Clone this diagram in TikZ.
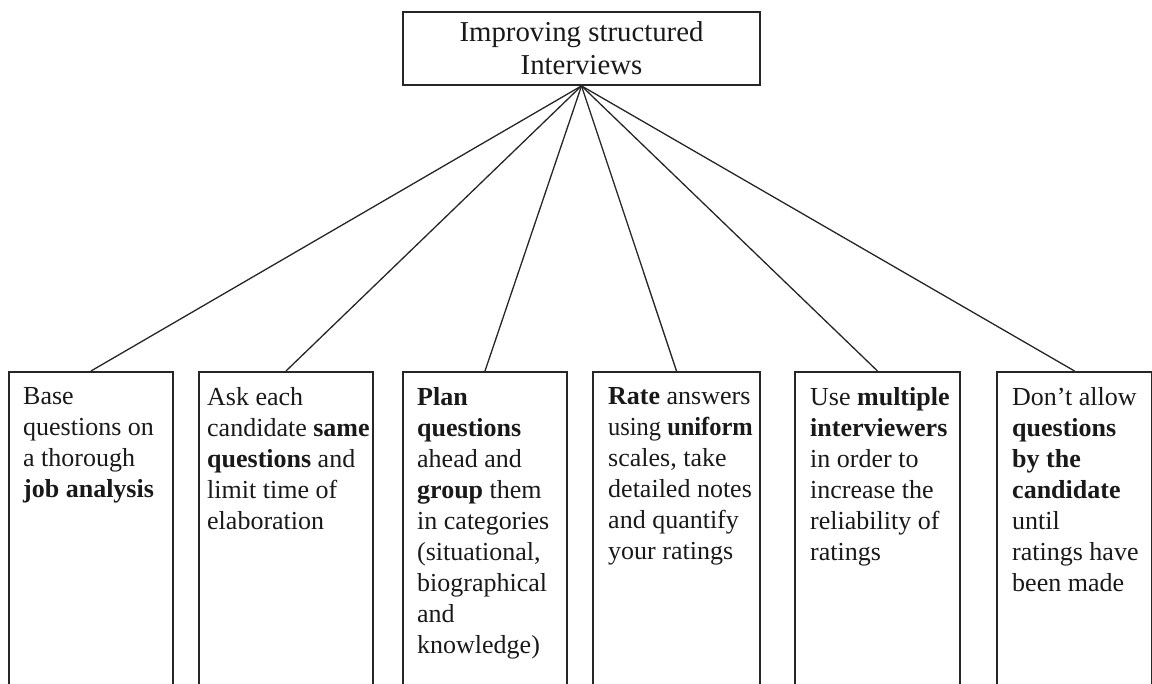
\documentclass[tikz,border=0pt]{standalone}
\usepackage{fontspec}
\setmainfont{Liberation Serif}
\begin{document}
\begin{tikzpicture}[x=1pt,y=-1pt,
  box/.style={draw=black!85, line width=1.8pt, minimum height=400pt, anchor=north, inner sep=0pt},
  txt/.style={anchor=north west, inner sep=0pt, align=left, font=\fontsize{26}{31}\selectfont, text=black!90},
  conn/.style={draw=black!85, line width=1.3pt},
  hub/.style={draw=black!85, line width=1.8pt, minimum width=357pt, minimum height=73pt, inner sep=0pt, align=center, font=\fontsize{28.8}{33}\selectfont, text=black!90}]
\useasboundingbox (0,0) rectangle (1152,684);
\clip (0,0) rectangle (1152,684);
\node[hub] (top) at (581.5,48.5) {Improving structured\\Interviews};
\node[box, minimum width=164pt] (b1) at (91,371) {};
\node[box, minimum width=174pt] (b2) at (286,371) {};
\node[box, minimum width=164pt] (b3) at (485,371) {};
\node[box, minimum width=167pt] (b4) at (676.5,371) {};
\node[box, minimum width=165pt] (b5) at (877.5,371) {};
\node[box, minimum width=155pt] (b6) at (1074.5,371) {};
\node[txt] (t1) at (23,387) {Base\\questions on\\a thorough\\\textbf{job analysis}};
\node[txt] (t2) at (207,387) {Ask each\\candidate \textbf{same}\\\textbf{questions} and\\limit time of\\elaboration};
\node[txt] (t3) at (417,387) {\textbf{Plan}\\\textbf{questions}\\ahead and\\\textbf{group} them\\in categories\\(situational,\\biographical\\and\\knowledge)};
\node[txt] (t4) at (608,387) {\textbf{Rate} answers\\\scalebox{0.94}[1]{using \textbf{uniform}}\\scales, take\\detailed notes\\and quantify\\your ratings};
\node[txt] (t5) at (810,387) {Use \textbf{multiple}\\\textbf{interviewers}\\in order to\\increase the\\reliability of\\ratings};
\node[txt] (t6) at (1012,387) {Don’t allow\\\textbf{questions}\\\textbf{by the}\\\textbf{candidate}\\until\\ratings have\\been made};
\foreach \b in {b1,b2,b3,b4,b5,b6}
  \draw[conn] (top.south) -- (\b.north);
\end{tikzpicture}
\end{document}
